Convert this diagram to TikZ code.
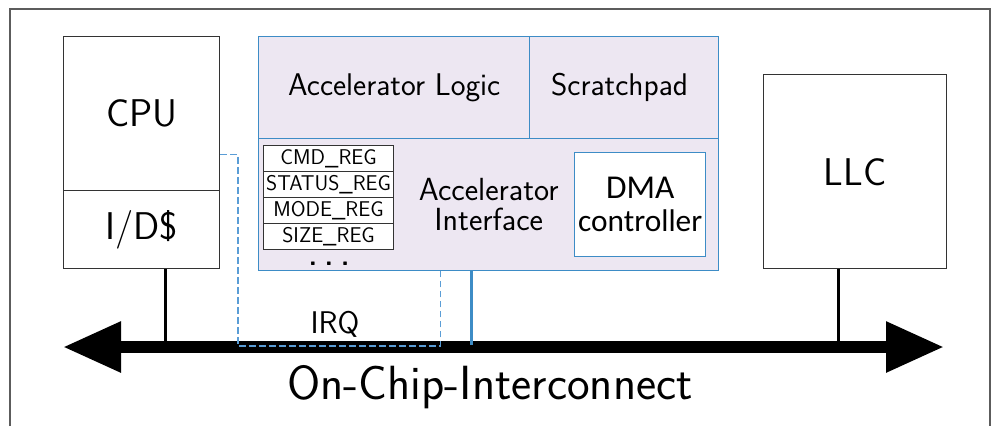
\documentclass[tikz,border=0pt]{standalone}
\usepackage{fontspec}
\newfontfamily\dmafont{Carlito}
\usetikzlibrary{arrows.meta}
\definecolor{accblue}{HTML}{3D8CC6}
\definecolor{irqblue}{HTML}{5A9DD6}
\definecolor{lav}{HTML}{EDE7F2}
\definecolor{boxgray}{HTML}{333333}
\newcommand{\fs}[1]{\fontsize{#1}{1.15\dimexpr#1\relax}\selectfont}
\begin{document}
\begin{tikzpicture}[x=0.75pt,y=-0.75pt,
  font=\sffamily,
  blk/.style={draw=boxgray,line width=1.1pt,fill=white,inner sep=0pt,anchor=north west},
  acc/.style={draw=accblue,line width=1.1pt,fill=lav,inner sep=0pt,anchor=north west},
  reg/.style={draw=boxgray,line width=0.9pt,fill=white,inner sep=0pt,anchor=north west,
     minimum width=97.5pt,minimum height=19.5pt,font=\sffamily\fs{16pt}},
  link/.style={line width=2.3pt,black},
  bus/.style={line width=9pt,{Triangle[length=43.5pt,width=36pt]}-{Triangle[length=43.5pt,width=36pt]}},
  irq/.style={irqblue,line width=0.9pt,dash pattern=on 5pt off 2.5pt}
]
\useasboundingbox (0,0) rectangle (997,426);
% outer frame
\draw[line width=1.2pt,boxgray!80] (10,426) -- (10,9) -- (990,9) -- (990,426);

% CPU
\node[blk,minimum width=117pt,minimum height=115.5pt,font=\sffamily\fs{29pt}] (cpu) at (63,36) {CPU};
\node[blk,minimum width=117pt,minimum height=58.5pt,font=\sffamily\fs{29pt}] (ids) at (63,190) {I/D\$};

% Accelerator
\node[acc,minimum width=203.25pt,minimum height=76.5pt,font=\sffamily\fs{23.5pt}] (logic) at (258,36) {Accelerator Logic};
\node[acc,minimum width=141.75pt,minimum height=76.5pt,font=\sffamily\fs{23.5pt}] (scratch) at (529,36) {Scratchpad\hspace*{7pt}};
\node[acc,minimum width=345pt,minimum height=99pt,align=center,font=\sffamily\fs{24pt}] (iface) at (258,138) {Accelerator\\[-5pt]Interface};

\node[reg] (r1) at (263,145) {CMD\_REG};
\node[reg] (r2) at (263,171) {STATUS\_REG};
\node[reg] (r3) at (263,197) {MODE\_REG};
\node[reg] (r4) at (263,223) {SIZE\_REG};
\node[font=\sffamily\bfseries\fs{20pt},inner sep=0pt,anchor=base] (dots) at (329,265) {.\hspace{6pt}.\hspace{6pt}.};

\node[draw=accblue,line width=1.1pt,fill=white,inner sep=0pt,anchor=north west,
  minimum width=98.25pt,minimum height=78pt,align=center,font=\dmafont\fs{25pt}] (dma) at (574,152)
  {DMA\\[-4pt]{\fs{23.5pt}controller}};

% LLC
\node[blk,minimum width=137.25pt,minimum height=145.5pt,font=\sffamily\fs{29pt}] (llc) at (763,74) {LLC};

% bus
\coordinate (busL) at (63,347);
\coordinate (busR) at (944,347);
\draw[bus] (busL) -- (busR);
\node[font=\sffamily\fs{36pt},inner sep=0pt] (oci) at (490,387) {On-Chip-Interconnect};

% connectors
\draw[link] ([xshift=18pt]ids.south) -- ([xshift=18pt]ids.south |- busL);
\draw[link] ([xshift=-12.4pt]llc.south) -- ([xshift=-12.4pt]llc.south |- busL);
\draw[accblue,line width=2.3pt] ([xshift=-12.75pt]iface.south) -- ([xshift=-12.75pt,yshift=1.5pt]iface.south |- busL);

% IRQ
\coordinate (irqc) at (238,346);
\draw[irq] ([yshift=27.75pt]cpu.south east) -| (irqc) -| ([xshift=-36.375pt]iface.south);
\node[font=\sffamily\fs{23.5pt},inner sep=0pt] (irqlbl) at (335,324) {IRQ};
\end{tikzpicture}
\end{document}
